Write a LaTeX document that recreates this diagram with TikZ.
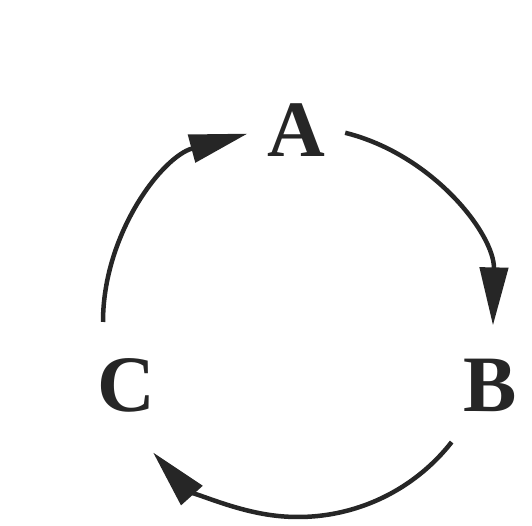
\documentclass[tikz,border=0pt]{standalone}
\usepackage{fontspec}
\setmainfont{Liberation Serif}
\usetikzlibrary{arrows.meta}
\begin{document}
\begin{tikzpicture}[x=1pt,y=1pt,
  letter/.style={font=\fontsize{80}{80}\selectfont\bfseries, inner sep=0pt, text=black!85},
  arr/.style={line width=4.5pt, draw=black!85, -{Triangle[length=58pt,width=28pt]}}]
\useasboundingbox (0,0) rectangle (532,526);
\coordinate (O) at (298,204);
\node[letter] (A) at (296,396) {A};
\node[letter] (B) at (490,141) {B};
\node[letter] (C) at (126,141) {C};
\coordinate (a1) at ([shift={(76:195)}]O);
\coordinate (b1) at ([shift={(-38:195)}]O);
\coordinate (c1) at ([shift={(180:195)}]O);
\draw[arr] (a1) arc[start angle=76, end angle=-1, radius=195];
\draw[arr] (b1) arc[start angle=-38, end angle=-138, radius=195];
\draw[arr] (c1) arc[start angle=180, end angle=105, radius=195];
\end{tikzpicture}
\end{document}
